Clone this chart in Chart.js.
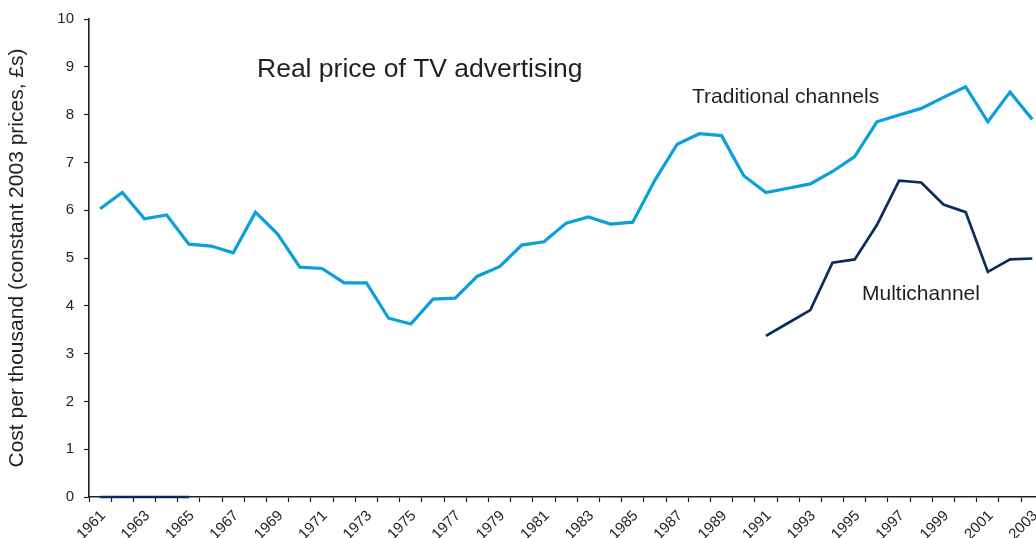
<!DOCTYPE html>
<html>
<head>
<meta charset="utf-8">
<script src="https://cdn.jsdelivr.net/npm/chart.js@4.4.1/dist/chart.umd.min.js"></script>
<style>
  html, body { margin: 0; padding: 0; background: #fff; overflow: hidden; width: 1036px; height: 538px; }
  #wrap { width: 1050px; height: 560px; }
</style>
</head>
<body>
<div id="wrap"><canvas id="c" width="1050" height="560"></canvas></div>
<script>
const years = [1961,1962,1963,1964,1965,1966,1967,1968,1969,1970,1971,1972,1973,1974,1975,1976,1977,1978,1979,1980,1981,1982,1983,1984,1985,1986,1987,1988,1989,1990,1991,1992,1993,1994,1995,1996,1997,1998,1999,2000,2001,2002,2003];
const shownYears = [1961,1963,1965,1967,1969,1971,1973,1975,1977,1979,1981,1983,1985,1987,1989,1991,1993,1995,1997,1999,2001,2003];
const traditional = [6.03,6.37,5.82,5.90,5.29,5.25,5.11,5.96,5.50,4.81,4.78,4.48,4.48,3.74,3.62,4.14,4.16,4.62,4.82,5.27,5.34,5.73,5.86,5.71,5.75,6.63,7.38,7.60,7.56,6.72,6.37,6.46,6.55,6.81,7.12,7.85,7.99,8.13,8.36,8.58,7.85,8.47,7.90];
const multichannel = [0,0,0,0,0,null,null,null,null,null,null,null,null,null,null,null,null,null,null,null,null,null,null,null,null,null,null,null,null,null,3.37,3.64,3.91,4.90,4.97,5.69,6.62,6.58,6.12,5.96,4.71,4.97,4.99];
const yTicks = [0,1,2,3,4,5,6,7,8,9,10];

const textColor = '#231f20';
const FONT = '"Liberation Sans", Arial, Helvetica, sans-serif';

const annotations = {
  id: 'annotations',
  afterDraw(chart) {
    const ctx = chart.ctx;
    ctx.save();
    ctx.fillStyle = textColor;
    ctx.textBaseline = 'alphabetic';
    ctx.textAlign = 'left';
    ctx.font = '26.5px ' + FONT;
    ctx.fillText('Real price of TV advertising', 257, 77);
    ctx.font = '21px ' + FONT;
    ctx.fillText('Traditional channels', 692, 103);
    ctx.fillText('Multichannel', 862, 300);
    ctx.restore();
  }
};

new Chart(document.getElementById('c'), {
  type: 'line',
  data: {
    labels: years,
    datasets: [
      { label: 'Multichannel', data: multichannel, borderColor: '#0b2b5e', borderWidth: 2.7, pointRadius: 0, tension: 0, spanGaps: false, clip: false },
      { label: 'Traditional channels', data: traditional, borderColor: '#0aa0dc', borderWidth: 3.2, pointRadius: 0, tension: 0 }
    ]
  },
  plugins: [annotations],
  options: {
    responsive: false,
    animation: false,
    devicePixelRatio: 1,
    layout: { padding: { top: 19, left: 0, right: 2, bottom: 0 } },
    plugins: { legend: { display: false }, tooltip: { enabled: false } },
    scales: {
      x: {
        type: 'category',
        offset: true,
        grid: { drawOnChartArea: false, offset: true, tickLength: 5, color: textColor, tickColor: textColor, tickWidth: 1.2 },
        border: { color: textColor, width: 1.6 },
        ticks: {
          autoSkip: false,
          maxRotation: 45,
          minRotation: 45,
          padding: 5,
          labelOffset: 3,
          color: textColor,
          font: { family: FONT, size: 15 },
          callback: function(v, i) { const y = years[i]; return shownYears.includes(y) ? String(y) : ''; }
        },
        afterFit(scale) { scale.height = 63; }
      },
      y: {
        min: 0, max: 10,
        afterBuildTicks(scale) { scale.ticks = yTicks.map(v => ({ value: v })); },
        grid: { drawOnChartArea: false, tickLength: 5, color: textColor, tickColor: textColor, tickWidth: 1.2 },
        border: { color: textColor, width: 1.6 },
        ticks: { color: textColor, padding: 10, font: { family: FONT, size: 15 } },
        title: {
          display: true,
          text: 'Cost per thousand (constant 2003 prices, £s)',
          color: textColor,
          font: { family: FONT, size: 21 },
          padding: { top: 5, bottom: 0 }
        },
        afterFit(scale) { scale.width = 89; }
      }
    }
  }
});
</script>
</body>
</html>
